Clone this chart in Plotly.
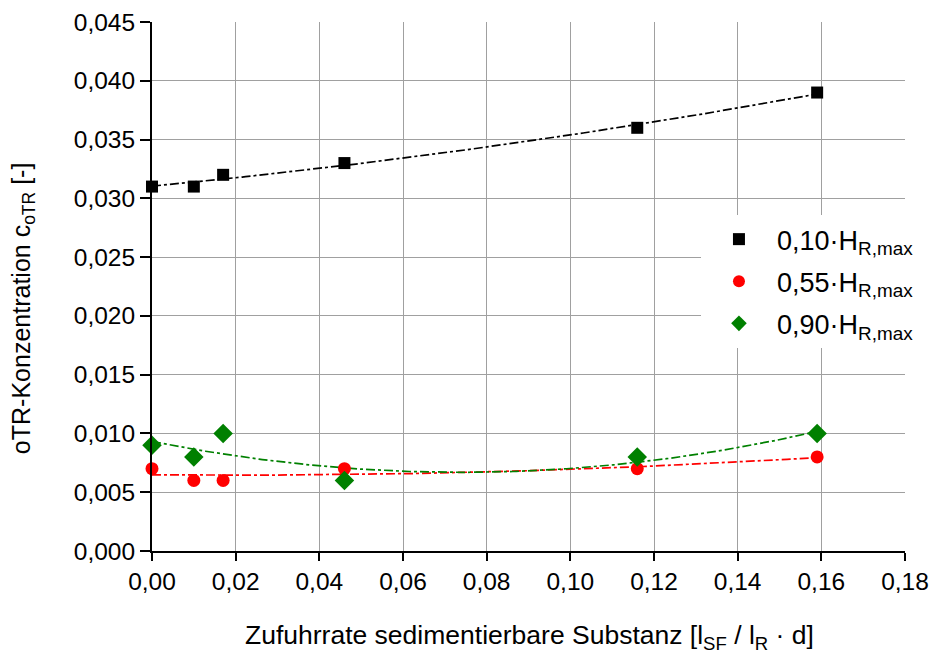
import numpy as np
import plotly.graph_objects as go

x_vals = [0.0, 0.010, 0.017, 0.046, 0.116, 0.159]
y_010 = [0.031, 0.031, 0.032, 0.033, 0.036, 0.039]
y_055 = [0.007, 0.006, 0.006, 0.007, 0.007, 0.008]
y_090 = [0.009, 0.008, 0.010, 0.006, 0.008, 0.010]
x_ticks = [0.0, 0.02, 0.04, 0.06, 0.08, 0.10, 0.12, 0.14, 0.16, 0.18]
names = ["0,10·H<sub>R,max</sub>", "0,55·H<sub>R,max</sub>", "0,90·H<sub>R,max</sub>"]
colors = ["black", "red", "green"]
symbols = ["square", "circle", "diamond"]
sizes = [12, 13, 15]

fig = go.Figure()
xf = np.linspace(0, max(x_vals), 200)
for ys, c in zip([y_010, y_055, y_090], colors):
    p = np.polyfit(x_vals, ys, 2)
    fig.add_trace(go.Scatter(x=xf, y=np.polyval(p, xf), mode="lines",
                             line=dict(color=c, width=1.7, dash="dashdot"),
                             showlegend=False, hoverinfo="skip"))
for i, (ys, n, c, s, sz) in enumerate(zip([y_010, y_055, y_090], names, colors, symbols, sizes)):
    fig.add_trace(go.Scatter(x=x_vals, y=ys, mode="markers", name=n,
                             legendgroup=f"g{i}",
                             marker=dict(color=c, symbol=s, size=sz),
                             cliponaxis=False))

font = "Liberation Sans, Arial, sans-serif"
fig.update_layout(
    width=932, height=655,
    margin=dict(l=152, r=27, t=22, b=104, autoexpand=False),
    plot_bgcolor="white", paper_bgcolor="white",
    separators=",.",
    font=dict(family=font, size=24.5, color="black"),
    legend=dict(xref="container", yref="paper", x=0.7521, y=0.635,
                xanchor="left", yanchor="top",
                bgcolor="white", font=dict(size=27), itemsizing="constant",
                itemwidth=66, tracegroupgap=4),
    xaxis=dict(range=[0, 0.180001], tickmode="array", tickvals=x_ticks,
               tickformat=".2f", ticklabeloverflow="allow",
               showgrid=True, gridcolor="#a0a0a0", gridwidth=1.4,
               showline=True, linecolor="black", linewidth=2,
               ticks="outside", ticklen=8, tickwidth=2, tickcolor="black",
               zeroline=False, automargin=False),
    yaxis=dict(range=[0, 0.045], dtick=0.005, tickformat=".3f",
               showgrid=True, gridcolor="#a0a0a0", gridwidth=1.4,
               showline=True, linecolor="black", linewidth=2,
               ticks="outside", ticklen=10, tickwidth=2, tickcolor="black",
               zeroline=False, automargin=False),
    annotations=[
        dict(text="oTR-Konzentration c<sub>oTR</sub> [-]",
             xref="paper", yref="paper", x=-0.172, y=0.46,
             xanchor="center", yanchor="middle", textangle=-90,
             showarrow=False, font=dict(size=25)),
        dict(text="Zufuhrrate sedimentierbare Substanz [l<sub>SF</sub> / l<sub>R</sub> · d]",
             xref="paper", yref="paper", x=0.5007, y=-0.162,
             xanchor="center", yanchor="middle",
             showarrow=False, font=dict(size=26.5)),
    ],
)
fig.write_html("out.html", config={"displayModeBar": False},
               post_script="document.body.style.margin='0';")
